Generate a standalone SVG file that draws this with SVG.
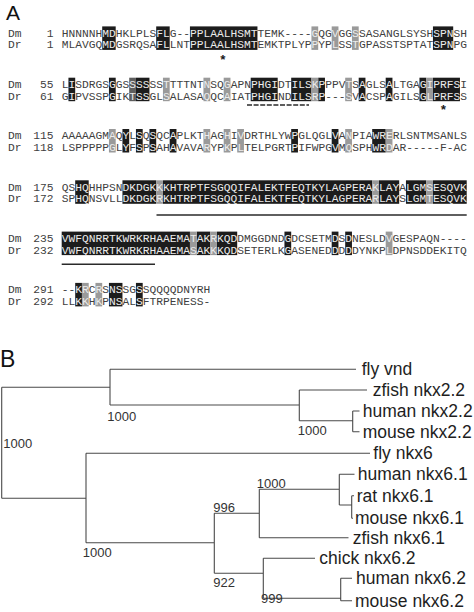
<svg xmlns="http://www.w3.org/2000/svg" width="474" height="612" viewBox="0 0 474 612">
<style>
.seq{font-family:"Liberation Mono","Courier New",monospace;font-size:11.25px;fill:#404040}
.h{fill:#ececec}
.k{fill:#1c1c1c}.d{fill:#5e5e5e}.g{fill:#9a9a9a}
.ast{font-family:"Liberation Mono","Courier New",monospace;font-size:13px;font-weight:bold;fill:#1a1a1a}
.ul{stroke:#2a2a2a;stroke-width:1.4;fill:none}
.panel{font-family:"Liberation Sans",Arial,sans-serif;fill:#111}
.edge path{stroke:#4a4a4a;stroke-width:1.1;fill:none}
.leaf{font-family:"Liberation Sans",Arial,sans-serif;font-size:17.5px;fill:#1e1e1e}
.bs{font-family:"Liberation Sans",Arial,sans-serif;font-size:13px;fill:#333}
</style>
<rect width="474" height="612" fill="#ffffff"/>
<text class="panel" x="6" y="20" font-size="21">A</text>
<text class="panel" x="0" y="366.5" font-size="23">B</text>

<g id="alignment">
<!-- block 1 -->
<g id="block1">
<g transform="translate(61.7 26.4) scale(6.75 1)">
<rect class="k" x="6" y="0" width="2" height="23.5"/><rect class="k" x="14" y="0" width="2" height="23.5"/><rect class="k" x="19" y="0" width="10" height="23.5"/><rect class="k" x="55" y="0" width="3" height="23.5"/>
<rect class="g" x="37" y="0" width="1" height="23.5"/><rect class="g" x="40" y="0" width="1" height="23.5"/><rect class="g" x="43" y="0" width="1" height="23.5"/>
</g>
<text class="seq" x="8" y="36.7">Dm</text><text class="seq" x="53.5" y="36.7" text-anchor="end">1</text>
<text class="seq" x="61.7" y="36.7">HNNNNH<tspan class="h">MD</tspan>HKLPLS<tspan class="h">FL</tspan>G--<tspan class="h">PPLAALHSMT</tspan>TEMK----<tspan class="h">G</tspan>QG<tspan class="h">V</tspan>GG<tspan class="h">S</tspan>SASANGLSYSH<tspan class="h">SPN</tspan>SH</text>
<text class="seq" x="8" y="48.3">Dr</text><text class="seq" x="53.5" y="48.3" text-anchor="end">1</text>
<text class="seq" x="61.7" y="48.3">MLAVGQ<tspan class="h">MD</tspan>GSRQSA<tspan class="h">FL</tspan>LNT<tspan class="h">PPLAALHSMT</tspan>EMKTPLYP<tspan class="h">P</tspan>YP<tspan class="h">L</tspan>SS<tspan class="h">T</tspan>GPASSTSPTAT<tspan class="h">SPN</tspan>PG</text>
<text class="ast" x="223" y="64" text-anchor="middle">*</text>
</g>
<!-- block 2 -->
<g id="block2">
<g transform="translate(61.7 77.7) scale(6.75 1)">
<rect class="k" x="1" y="0" width="1" height="23.5"/><rect class="k" x="7" y="0" width="1" height="23.5"/><rect class="k" x="11" y="0" width="2" height="23.5"/><rect class="k" x="28" y="0" width="4" height="23.5"/><rect class="k" x="34" y="0" width="3" height="23.5"/><rect class="k" x="38" y="0" width="1" height="23.5"/><rect class="k" x="44" y="0" width="1" height="23.5"/><rect class="k" x="48" y="0" width="1" height="23.5"/><rect class="k" x="53" y="0" width="1" height="23.5"/><rect class="k" x="55" y="0" width="4" height="23.5"/>
<rect class="d" x="10" y="0" width="1" height="23.5"/>
<rect class="g" x="15" y="0" width="1" height="23.5"/><rect class="g" x="21" y="0" width="1" height="23.5"/><rect class="g" x="24" y="0" width="1" height="23.5"/><rect class="g" x="37" y="0" width="1" height="23.5"/><rect class="g" x="42" y="0" width="1" height="23.5"/><rect class="g" x="54" y="0" width="1" height="23.5"/>
</g>
<text class="seq" x="8" y="88">Dm</text><text class="seq" x="53.5" y="88" text-anchor="end">55</text>
<text class="seq" x="61.7" y="88">L<tspan class="h">I</tspan>SDRGS<tspan class="h">G</tspan>GS<tspan class="h">SSS</tspan>SS<tspan class="h">T</tspan>TTTNT<tspan class="h">N</tspan>SQ<tspan class="h">G</tspan>APN<tspan class="h">PHGI</tspan>DT<tspan class="h">ILSKP</tspan>PPV<tspan class="h">T</tspan>S<tspan class="h">A</tspan>GLS<tspan class="h">A</tspan>LTGA<tspan class="h">GIPRFS</tspan>I</text>
<text class="seq" x="8" y="99.6">Dr</text><text class="seq" x="53.5" y="99.6" text-anchor="end">61</text>
<text class="seq" x="61.7" y="99.6">G<tspan class="h">I</tspan>PVSSP<tspan class="h">G</tspan>IK<tspan class="h">TSS</tspan>GL<tspan class="h">S</tspan>ALASA<tspan class="h">Q</tspan>QC<tspan class="h">A</tspan>IAT<tspan class="h">PHGI</tspan>ND<tspan class="h">ILSRP</tspan>---<tspan class="h">S</tspan>V<tspan class="h">A</tspan>CSP<tspan class="h">A</tspan>GILS<tspan class="h">GLPRFS</tspan>S</text>
<path class="ul" d="M247,105 H309" stroke-dasharray="5 1.6"/>
<text class="ast" x="443.3" y="113.5" text-anchor="middle">*</text>
</g>
<!-- block 3 -->
<g id="block3">
<g transform="translate(61.7 129) scale(6.75 1)">
<rect class="k" x="9" y="0" width="1" height="23.5"/><rect class="k" x="11" y="0" width="1" height="23.5"/><rect class="k" x="13" y="0" width="1" height="23.5"/><rect class="k" x="16" y="0" width="1" height="23.5"/><rect class="k" x="34" y="0" width="1" height="23.5"/><rect class="k" x="40" y="0" width="1" height="23.5"/><rect class="k" x="46" y="0" width="2" height="23.5"/>
<rect class="g" x="7" y="0" width="1" height="23.5"/><rect class="g" x="21" y="0" width="1" height="23.5"/><rect class="g" x="24" y="0" width="1" height="23.5"/><rect class="g" x="26" y="0" width="1" height="23.5"/><rect class="g" x="42" y="0" width="1" height="23.5"/><rect class="g" x="48" y="0" width="1" height="23.5"/>
</g>
<text class="seq" x="8" y="139.3">Dm</text><text class="seq" x="53.5" y="139.3" text-anchor="end">115</text>
<text class="seq" x="61.7" y="139.3">AAAAAGM<tspan class="h">A</tspan>Q<tspan class="h">Y</tspan>L<tspan class="h">S</tspan>Q<tspan class="h">S</tspan>QC<tspan class="h">A</tspan>PLKT<tspan class="h">H</tspan>AG<tspan class="h">H</tspan>I<tspan class="h">V</tspan>DRTHLYW<tspan class="h">P</tspan>GLQGL<tspan class="h">V</tspan>A<tspan class="h">N</tspan>PIA<tspan class="h">WRE</tspan>RLSNTMSANLS</text>
<text class="seq" x="8" y="150.9">Dr</text><text class="seq" x="53.5" y="150.9" text-anchor="end">118</text>
<text class="seq" x="61.7" y="150.9">LSPPPPP<tspan class="h">G</tspan>L<tspan class="h">Y</tspan>F<tspan class="h">S</tspan>P<tspan class="h">S</tspan>AH<tspan class="h">A</tspan>VAVA<tspan class="h">R</tspan>YP<tspan class="h">K</tspan>P<tspan class="h">L</tspan>TELPGRT<tspan class="h">P</tspan>IFWPG<tspan class="h">V</tspan>M<tspan class="h">Q</tspan>SPH<tspan class="h">WRD</tspan>AR-----F-AC</text>
</g>
<!-- block 4 -->
<g id="block4">
<g transform="translate(61.7 180.3) scale(6.75 1)">
<rect class="k" x="2" y="0" width="2" height="23.5"/><rect class="k" x="9" y="0" width="5" height="23.5"/><rect class="k" x="15" y="0" width="31" height="23.5"/><rect class="k" x="47" y="0" width="3" height="23.5"/><rect class="k" x="51" y="0" width="3" height="23.5"/><rect class="k" x="55" y="0" width="5" height="23.5"/>
<rect class="g" x="14" y="0" width="1" height="23.5"/><rect class="g" x="46" y="0" width="1" height="23.5"/><rect class="g" x="54" y="0" width="1" height="23.5"/>
</g>
<text class="seq" x="8" y="190.6">Dm</text><text class="seq" x="53.5" y="190.6" text-anchor="end">175</text>
<text class="seq" x="61.7" y="190.6">QS<tspan class="h">HQ</tspan>HHPSN<tspan class="h">DKDGKKKHTRPTFSGQQIFALEKTFEQTKYLAGPERAKLAY</tspan>A<tspan class="h">LGMSESQVK</tspan></text>
<text class="seq" x="8" y="202.2">Dr</text><text class="seq" x="53.5" y="202.2" text-anchor="end">172</text>
<text class="seq" x="61.7" y="202.2">SP<tspan class="h">HQ</tspan>NSVLL<tspan class="h">DKDGKRKHTRPTFSGQQIFALEKTFEQTKYLAGPERARLAY</tspan>S<tspan class="h">LGMTESQVK</tspan></text>
<path class="ul" d="M156.5,215 H466.7"/>
</g>
<!-- block 5 -->
<g id="block5">
<g transform="translate(61.7 231.6) scale(6.75 1)">
<rect class="k" x="0" y="0" width="19" height="23.5"/><rect class="k" x="20" y="0" width="2" height="23.5"/><rect class="k" x="23" y="0" width="3" height="23.5"/><rect class="k" x="33" y="0" width="1" height="23.5"/><rect class="k" x="40" y="0" width="1" height="23.5"/><rect class="k" x="42" y="0" width="1" height="23.5"/>
<rect class="g" x="19" y="0" width="1" height="23.5"/><rect class="g" x="22" y="0" width="1" height="23.5"/><rect class="g" x="48" y="0" width="1" height="23.5"/>
</g>
<text class="seq" x="8" y="241.9">Dm</text><text class="seq" x="53.5" y="241.9" text-anchor="end">235</text>
<text class="seq" x="61.7" y="241.9"><tspan class="h">VWFQNRRTKWRKRHAAEMATAKRKQD</tspan>DMGGDND<tspan class="h">G</tspan>DCSETM<tspan class="h">D</tspan>S<tspan class="h">D</tspan>NESLD<tspan class="h">V</tspan>GESPAQN----</text>
<text class="seq" x="8" y="253.5">Dr</text><text class="seq" x="53.5" y="253.5" text-anchor="end">232</text>
<text class="seq" x="61.7" y="253.5"><tspan class="h">VWFQNRRTKWRKRHAAEMASAKKKQD</tspan>SETERLK<tspan class="h">G</tspan>ASENED<tspan class="h">D</tspan>D<tspan class="h">D</tspan>DYNKP<tspan class="h">L</tspan>DPNSDDEKITQ</text>
<path class="ul" d="M61.7,264.3 H155"/>
</g>
<!-- block 6 -->
<g id="block6">
<g transform="translate(61.7 282.9) scale(6.75 1)">
<rect class="k" x="2" y="0" width="1" height="23.5"/><rect class="k" x="7" y="0" width="2" height="23.5"/><rect class="k" x="11" y="0" width="1" height="23.5"/>
<rect class="g" x="3" y="0" width="1" height="23.5"/><rect class="g" x="5" y="0" width="1" height="23.5"/>
</g>
<text class="seq" x="8" y="293.2">Dm</text><text class="seq" x="53.5" y="293.2" text-anchor="end">291</text>
<text class="seq" x="61.7" y="293.2">--<tspan class="h">KR</tspan>C<tspan class="h">R</tspan>S<tspan class="h">NS</tspan>SG<tspan class="h">S</tspan>SQQQQDNYRH</text>
<text class="seq" x="8" y="304.8">Dr</text><text class="seq" x="53.5" y="304.8" text-anchor="end">292</text>
<text class="seq" x="61.7" y="304.8">LL<tspan class="h">KK</tspan>H<tspan class="h">K</tspan>P<tspan class="h">NS</tspan>AL<tspan class="h">S</tspan>FTRPENESS-</text>
</g>
</g>

<g id="tree-edges" class="edge">
<path d="M1.7,387.3 V498.3 M1.7,387.3 H110 M110,369.3 V405 M110,369.3 H356 M110,405 H299.3 M299.3,390 V420.7 M299.3,390 H367 M299.3,420.7 H352.7 M352.7,411 V431.7 M352.7,411 H359.5 M352.7,431.7 H359.5"/>
<path d="M1.7,498.3 H86 M86,453.3 V542.7 M86,453.3 H370 M86,542.7 H214.3 M214.3,513.3 V573.3 M214.3,513.3 H259.3 M259.3,489.3 V537.7 M259.3,489.3 H339.3 M339.3,474.3 V505 M339.3,474.3 H354.5 M339.3,505 H351.7 M351.7,495.7 V518.3 M351.7,495.7 H354 M351.7,518.3 H353 M259.3,537.7 H348.5 M214.3,573.3 H263.3 M263.3,558.3 V598.3 M263.3,558.3 H315 M263.3,598.3 H340.7 M340.7,578.3 V600.7 M340.7,578.3 H352 M340.7,600.7 H352"/>
</g>
<g id="bootstrap">
<text class="bs" x="107.3" y="420.5">1000</text>
<text class="bs" x="297.7" y="435">1000</text>
<text class="bs" x="3.3" y="448.3">1000</text>
<text class="bs" x="256.7" y="487.7">1000</text>
<text class="bs" x="213.3" y="511.7">996</text>
<text class="bs" x="82.7" y="557.3">1000</text>
<text class="bs" x="213.3" y="586.7">922</text>
<text class="bs" x="261" y="603.3">999</text>
</g>
<g id="leaf-fly-vnd"><text class="leaf" x="361.7" y="375.3">fly vnd</text></g>
<g id="leaf-zfish-nkx22"><text class="leaf" x="372.7" y="396">zfish nkx2.2</text></g>
<g id="leaf-human-nkx22"><text class="leaf" x="362.7" y="417">human nkx2.2</text></g>
<g id="leaf-mouse-nkx22"><text class="leaf" x="362.7" y="437.7">mouse nkx2.2</text></g>
<g id="leaf-fly-nkx6"><text class="leaf" x="373.3" y="459.3">fly nkx6</text></g>
<g id="leaf-human-nkx61"><text class="leaf" x="357.7" y="480.3">human nkx6.1</text></g>
<g id="leaf-rat-nkx61"><text class="leaf" x="356.7" y="501.7">rat nkx6.1</text></g>
<g id="leaf-mouse-nkx61"><text class="leaf" x="355" y="524.3">mouse nkx6.1</text></g>
<g id="leaf-zfish-nkx61"><text class="leaf" x="352.7" y="543.7">zfish nkx6.1</text></g>
<g id="leaf-chick-nkx62"><text class="leaf" x="319.3" y="564.3">chick nkx6.2</text></g>
<g id="leaf-human-nkx62"><text class="leaf" x="356" y="584.3">human nkx6.2</text></g>
<g id="leaf-mouse-nkx62"><text class="leaf" x="355" y="606.7">mouse nkx6.2</text></g>
</svg>
